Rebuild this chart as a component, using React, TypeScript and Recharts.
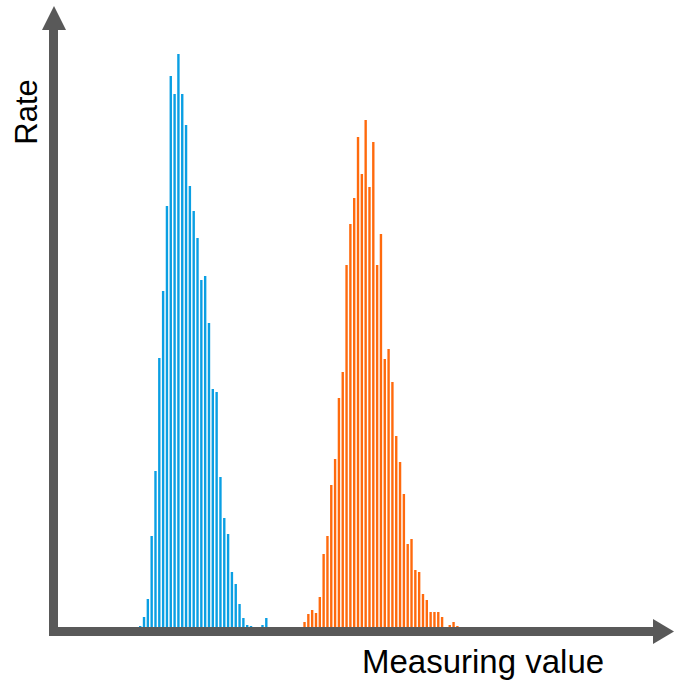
import React from 'react'
import { BarChart, Bar, XAxis, YAxis, Customized } from 'recharts'

const blueRates = [
  1, 10, 28, 91, 156, 269, 336, 421, 551, 533, 573, 533, 502, 441, 416, 389, 347,
  351, 304, 238, 235, 150, 109, 93, 55, 43, 23, 9, 2, 1, 0, 0, 2, 9,
]
const gapBins = 9
const orangeRates = [
  5, 13, 17, 14, 30, 73, 91, 142, 168, 229, 255, 362, 403, 429, 490, 453, 507,
  440, 485, 362, 393, 268, 278, 245, 191, 165, 133, 83, 88, 57, 55, 33, 27, 15,
  15, 15, 10, 0, 2, 5, 1,
]

const blueColor = '#0a9fe3'
const orangeColor = '#ff6a0d'
const axisColor = '#595959'

const chartData = [
  ...blueRates.map((v) => ({ blue: v, orange: 0 })),
  ...Array.from({ length: gapBins }, () => ({ blue: 0, orange: 0 })),
  ...orangeRates.map((v) => ({ blue: 0, orange: v })),
].map((d, i) => ({ bin: i, ...d }))

function AxisArrows() {
  return (
    <g>
      <rect x={49} y={28} width={9} height={608} fill={axisColor} />
      <polygon points="54,6 42,30 66,30" fill={axisColor} />
      <rect x={49} y={627} width={606} height={9} fill={axisColor} />
      <polygon points="674,631.5 653,619 653,644" fill={axisColor} />
      <text
        x={37}
        y={112}
        transform="rotate(-90, 37, 112)"
        textAnchor="middle"
        fontFamily="Liberation Sans, Arial, sans-serif"
        fontSize={31}
        fill="#000"
      >
        Rate
      </text>
      <text
        x={362}
        y={673}
        fontFamily="Liberation Sans, Arial, sans-serif"
        fontSize={33}
        fill="#000"
      >
        Measuring value
      </text>
    </g>
  )
}

export default function App() {
  return (
    <div style={{ position: 'absolute', left: 0, top: 0 }}>
      <BarChart
        width={674}
        height={685}
        data={chartData}
        margin={{ top: 27, right: 24, bottom: 58, left: 58 }}
        barCategoryGap={0}
      >
        <XAxis dataKey="bin" hide padding={{ left: 80, right: 191 }} />
        <YAxis hide domain={[0, 600]} />
        <Bar dataKey="blue" stackId="a" fill={blueColor} barSize={2.4} isAnimationActive={false} />
        <Bar dataKey="orange" stackId="a" fill={orangeColor} barSize={2.4} isAnimationActive={false} />
        <Customized component={AxisArrows} />
      </BarChart>
    </div>
  )
}
